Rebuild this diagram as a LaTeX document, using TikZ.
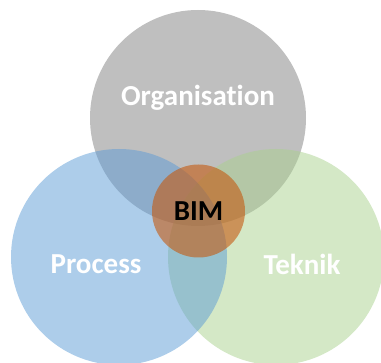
\documentclass[tikz,border=0pt]{standalone}
\usepackage{fontspec}
\setmainfont{Carlito}[Ligatures=NoCommon]
\definecolor{orgcol}{RGB}{127,127,127}
\definecolor{proccol}{RGB}{91,155,213}
\definecolor{tekcol}{RGB}{169,209,142}
\definecolor{bimcol}{RGB}{197,90,17}
\begin{document}
\begin{tikzpicture}[x=1pt,y=-1pt,
  venn/.style={circle,minimum size=216pt,inner sep=0pt,fill opacity=0.5,text opacity=1},
  label/.style={font=\bfseries\fontsize{29}{29}\selectfont,text=white},
  bimlabel/.style={font=\bfseries\fontsize{29}{29}\selectfont,text=black}]
  \useasboundingbox (0,0) rectangle (381,363);
  \begin{scope}
    \clip (0,0) rectangle (381,363);
    \node[venn,fill=orgcol] (org) at (198,118) {};
    \node[venn,fill=tekcol] (tek) at (276,257) {};
    \node[venn,fill=proccol] (proc) at (119,257) {};
    \node[circle,minimum size=93pt,inner sep=0pt,fill=bimcol,fill opacity=0.6] (bim) at (198.5,211) {};
  \end{scope}
  \node[label] (orgtext) at (198,98) {Organisation};
  \node[label] (proctext) at (96,264) {Process};
  \node[label] (tektext) at (302,264) {Teknik};
  \node[bimlabel] (bimtext) at (198.5,211) {BIM};
\end{tikzpicture}
\end{document}
